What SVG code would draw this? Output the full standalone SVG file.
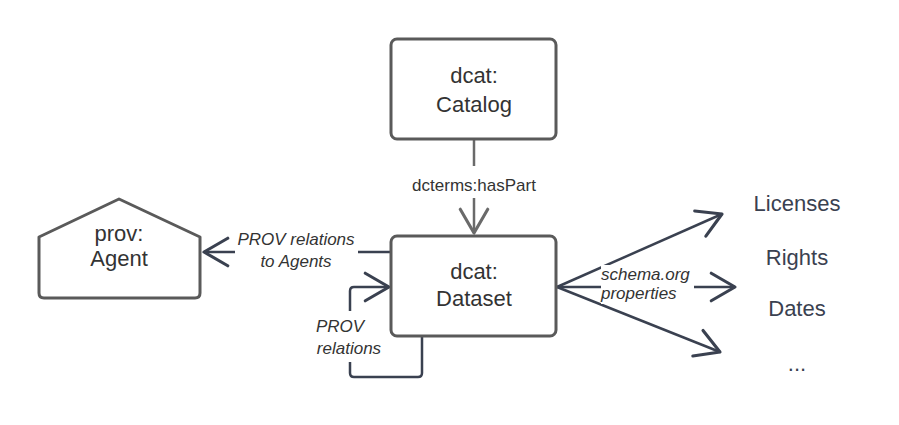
<svg xmlns="http://www.w3.org/2000/svg" width="899" height="425" viewBox="0 0 899 425">
<style>
.node{fill:#fff;stroke:#5a5a5a;stroke-width:3;}
.nt{font-family:"Liberation Sans",Arial,sans-serif;font-size:22px;fill:#333;text-anchor:middle;}
.rt{font-family:"Liberation Sans",Arial,sans-serif;font-size:22px;fill:#3a4150;text-anchor:middle;}
.lbl{font-family:"Liberation Sans",Arial,sans-serif;font-size:17px;fill:#333;text-anchor:middle;}
.it{font-style:italic;}
.st{text-anchor:start;}
.c{fill:none;stroke:#3a4150;stroke-width:2.5;}
.cg{fill:none;stroke:#6a6a6a;stroke-width:2.5;}
</style>
<defs>
<marker id="ah" markerUnits="userSpaceOnUse" markerWidth="30" markerHeight="30" refX="0" refY="0" viewBox="-22 -12 24 24" orient="auto" overflow="visible">
<path d="M-19,-11 L0,0 L-19,11" fill="none" stroke="#3a4150" stroke-width="2.5" stroke-linecap="round" stroke-linejoin="round"/>
</marker>
<marker id="ahg" markerUnits="userSpaceOnUse" markerWidth="30" markerHeight="30" refX="0" refY="0" viewBox="-22 -12 24 24" orient="auto" overflow="visible">
<path d="M-19,-11 L0,0 L-19,11" fill="none" stroke="#6a6a6a" stroke-width="2.5" stroke-linecap="round" stroke-linejoin="round"/>
</marker>
</defs>
<rect width="899" height="425" fill="#fff"/>
<g id="connectors">
<line class="cg" x1="474" y1="139" x2="474" y2="166"/>
<line class="cg" x1="474" y1="198" x2="474" y2="233" marker-end="url(#ahg)"/>
<text class="lbl" x="474" y="191">dcterms:hasPart</text>
<line class="c" x1="391" y1="252" x2="358" y2="252"/>
<line class="c" x1="235" y1="252" x2="204" y2="252" marker-end="url(#ah)"/>
<text class="lbl it" x="296" y="245">PROV relations</text>
<text class="lbl it" x="296" y="267">to Agents</text>
<path class="c" stroke-width="2" d="M422,337 V373 Q422,377 418,377 H354 Q350,377 350,373 V362"/>
<path class="c" stroke-width="2" d="M350,311 V291 Q350,287 354,287 H389" marker-end="url(#ah)"/>
<text class="lbl it" x="340" y="332">PROV</text>
<text class="lbl it" x="349" y="354">relations</text>
<line class="c" x1="557" y1="287" x2="722" y2="214" marker-end="url(#ah)"/>
<line class="c" x1="557" y1="287" x2="735" y2="287" marker-end="url(#ah)"/>
<line class="c" x1="557" y1="287" x2="720" y2="352" marker-end="url(#ah)"/>
<rect x="601" y="265" width="93" height="39" fill="#fff"/>
<text class="lbl it st" x="601" y="280">schema.org</text>
<text class="lbl it st" x="601" y="299">properties</text>
</g>
<g id="catalog">
<rect class="node" x="391" y="39" width="165" height="100" rx="6"/>
<text class="nt" x="474" y="83">dcat:</text>
<text class="nt" x="474" y="112">Catalog</text>
</g>
<g id="dataset">
<rect class="node" x="391" y="236" width="165" height="100" rx="6"/>
<text class="nt" x="474" y="279">dcat:</text>
<text class="nt" x="474" y="306">Dataset</text>
</g>
<g id="agent">
<path class="node" stroke-linejoin="round" d="M119,199 L200,237 V293 Q200,298 195,298 H44 Q39,298 39,293 V237 Z"/>
<text class="nt" x="119" y="241">prov:</text>
<text class="nt" x="119" y="266">Agent</text>
</g>
<g id="licenses"><text class="rt" x="797" y="211">Licenses</text></g>
<g id="rights"><text class="rt" x="797" y="265">Rights</text></g>
<g id="dates"><text class="rt" x="797" y="316">Dates</text></g>
<g id="more"><text class="rt" x="797" y="371">...</text></g>
</svg>
